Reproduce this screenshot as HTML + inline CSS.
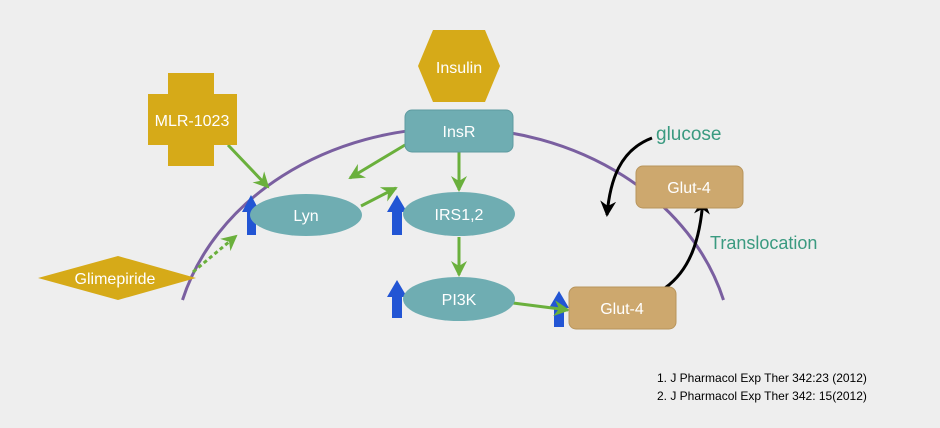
<!DOCTYPE html>
<html><head><style>
html,body{margin:0;padding:0;background:#eeeeee;}
svg{display:block;}
text{font-family:"Liberation Sans",sans-serif;}
</style></head><body>
<svg width="940" height="428" viewBox="0 0 940 428" xmlns="http://www.w3.org/2000/svg">
<defs>
<marker id="gb" markerWidth="16" markerHeight="16" refX="14" refY="8" orient="auto" markerUnits="userSpaceOnUse"><path d="M0,0 L16,8 L0,16 L5,8 Z" fill="#6ab03c"/></marker>
<marker id="k" markerWidth="16" markerHeight="16" refX="14" refY="8" orient="auto" markerUnits="userSpaceOnUse"><path d="M0,0 L16,8 L0,16 L5,8 Z" fill="#000"/></marker>
</defs>
<rect width="940" height="428" fill="#eeeeee"/>
<!-- membrane -->
<path d="M182.5,300 A280,232 0 0 1 723.5,300" fill="none" stroke="#7a5fa0" stroke-width="3"/>
<!-- arrows green -->
<g stroke="#6ab03c" stroke-width="3" fill="none">
<line x1="228" y1="145" x2="268" y2="187" marker-end="url(#gb)"/>
<line x1="405" y1="145" x2="350" y2="178" marker-end="url(#gb)"/>
<line x1="361" y1="206" x2="396" y2="188" marker-end="url(#gb)"/>
<line x1="459" y1="152" x2="459" y2="190" marker-end="url(#gb)"/>
<line x1="459" y1="237" x2="459" y2="275" marker-end="url(#gb)"/>
<line x1="193" y1="272" x2="236" y2="236" stroke-dasharray="4,3" marker-end="url(#gb)"/>
</g>
<!-- black arrows -->
<path d="M652,138 C620,150 610,180 607,215" fill="none" stroke="#000" stroke-width="3" marker-end="url(#k)"/>
<path d="M665,288 C690,270 700,240 703,200" fill="none" stroke="#000" stroke-width="3" marker-end="url(#k)"/>
<!-- blue arrows -->
<g fill="#2255d4">
<path d="M242,212 L251,195 L260,212 L256,212 L256,235 L247,235 L247,212 Z"/>
<path d="M387,212 L397,195 L407,212 L402,212 L402,235 L392,235 L392,212 Z"/>
<path d="M387,297 L397,280 L407,297 L402,297 L402,318 L392,318 L392,297 Z"/>
<path d="M549,308 L559,291 L569,308 L564,308 L564,327 L554,327 L554,308 Z"/>
</g>
<line x1="513" y1="303" x2="568" y2="310" stroke="#6ab03c" stroke-width="3" marker-end="url(#gb)"/>
<!-- Insulin hexagon -->
<polygon points="418,66 433,30 485,30 500,66 485,102 433,102" fill="#d6aa18"/>
<text x="459" y="73" font-size="16" fill="#fff" text-anchor="middle">Insulin</text>
<!-- MLR cross -->
<path d="M168,73 H214 V94 H237 V145 H214 V166 H168 V145 H148 V94 H168 Z" fill="#d6aa18"/>
<text x="192" y="126" font-size="16" fill="#fff" text-anchor="middle">MLR-1023</text>
<!-- InsR -->
<rect x="405" y="110" width="108" height="42" rx="7" fill="#6fadb2" stroke="#5e9ba0"/>
<text x="459" y="137" font-size="16" fill="#fff" text-anchor="middle">InsR</text>
<!-- ellipses -->
<ellipse cx="306" cy="215" rx="56" ry="21" fill="#6fadb2"/>
<text x="306" y="221" font-size="16" fill="#fff" text-anchor="middle">Lyn</text>
<ellipse cx="459" cy="214" rx="56" ry="22" fill="#6fadb2"/>
<text x="459" y="220" font-size="16" fill="#fff" text-anchor="middle">IRS1,2</text>
<ellipse cx="459" cy="299" rx="56" ry="22" fill="#6fadb2"/>
<text x="459" y="305" font-size="16" fill="#fff" text-anchor="middle">PI3K</text>
<!-- Glut-4 -->
<rect x="569" y="287" width="107" height="42" rx="7" fill="#cda86e" stroke="#b8955c"/>
<text x="622" y="314" font-size="16" fill="#fff" text-anchor="middle">Glut-4</text>
<rect x="636" y="166" width="107" height="42" rx="7" fill="#cda86e" stroke="#b8955c"/>
<text x="689" y="193" font-size="16" fill="#fff" text-anchor="middle">Glut-4</text>
<!-- Glimepiride -->
<polygon points="38,278 118,256 196,278 118,300" fill="#d6aa18"/>
<text x="115" y="284" font-size="16" fill="#fff" text-anchor="middle">Glimepiride</text>
<!-- labels -->
<text x="656" y="140" font-size="19" fill="#3a9a80">glucose</text>
<text x="710" y="249" font-size="18" fill="#3a9a80">Translocation</text>
<text x="657" y="382" font-size="12" fill="#000">1. J Pharmacol Exp Ther 342:23 (2012)</text>
<text x="657" y="400" font-size="12" fill="#000">2. J Pharmacol Exp Ther 342: 15(2012)</text>
</svg>
</body></html>
